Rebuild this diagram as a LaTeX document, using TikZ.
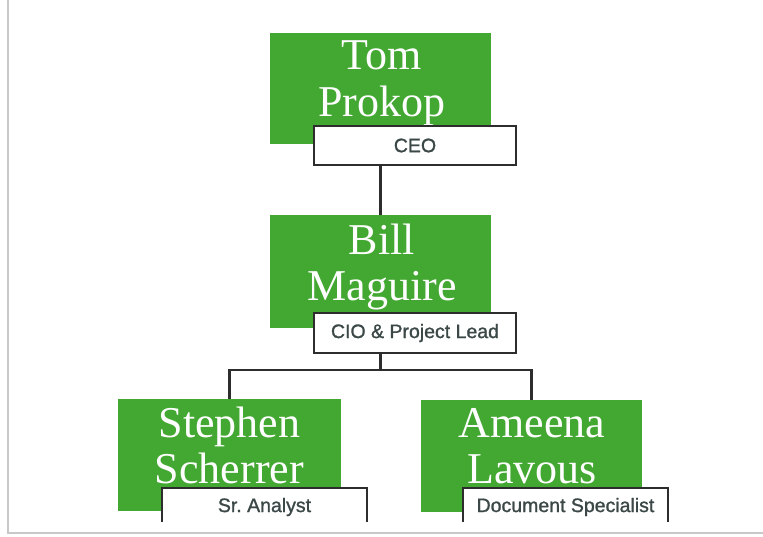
\documentclass[tikz,border=0pt]{standalone}
\usepackage{fontspec}
\setmainfont{Liberation Serif}
\newfontfamily\labelfont[FakeBold=1.2]{Liberation Sans}
\definecolor{boxgreen}{RGB}{67,168,50}
\definecolor{labelgray}{RGB}{60,72,72}
\definecolor{linegray}{RGB}{45,45,45}
\definecolor{framegray}{RGB}{200,200,200}
\begin{document}
\begin{tikzpicture}[x=1pt,y=-1pt,
  gbox/.style={fill=boxgreen, draw=none, inner sep=0pt},
  nametxt/.style={text=white, font=\fontsize{44}{46}\selectfont, inner sep=0pt, anchor=base},
  lbox/.style={fill=white, draw=linegray, line width=2.2pt, inner sep=0pt},
  lopen/.style={fill=white, draw=none, inner sep=0pt},
  lside/.style={draw=linegray, line width=2.2pt},
  lbltxt/.style={text=labelgray, font=\labelfont\fontsize{19.5}{22}\selectfont\frenchspacing, inner sep=0pt},
  conn/.style={draw=linegray, line width=2.2pt}]
\useasboundingbox (0,0) rectangle (763,537);
\fill[white] (0,0) rectangle (763,537);
\draw[framegray, line width=1.2pt] (8,0) -- (8,533) -- (763,533);

% green boxes
\node[gbox, minimum width=221pt, minimum height=111pt] (tomg) at (380.5,88.5) {};
\node[gbox, minimum width=221pt, minimum height=113pt] (billg) at (380.5,271.5) {};
\node[gbox, minimum width=223pt, minimum height=112pt] (steg) at (229.5,455) {};
\node[gbox, minimum width=221pt, minimum height=112pt] (ameg) at (531.5,456) {};

% names
\node[nametxt] (tom1) at (382,70) {Tom};
\node[nametxt] (tom2) at (382,117) {Prokop};
\node[nametxt] (bill1) at (382,255) {Bill};
\node[nametxt] (bill2) at (382,301) {Maguire};
\node[nametxt] (ste1) at (229.5,437) {Stephen};
\node[nametxt] (ste2) at (229.5,483) {Scherrer};
\node[nametxt] (ame1) at (532,437) {Ameena};
\node[nametxt] (ame2) at (532,483) {Lavous};

% label boxes
\node[lbox, minimum width=202pt, minimum height=39pt] (ceo) at (415,145.5) {};
\node[lbltxt] (ceot) at (ceo.center) {CEO};
\node[lbox, minimum width=202pt, minimum height=40pt] (cio) at (415,333) {};
\node[lbltxt] (ciot) at (cio.center) {CIO \& Project Lead};

\node[lopen, minimum width=205pt, minimum height=34pt] (sr) at (264.5,505) {};
\draw[lside] (sr.south west) -- (sr.north west) -- (sr.north east) -- (sr.south east);
\node[lbltxt] (srt) at (264.5,507) {Sr. Analyst};
\node[lopen, minimum width=205pt, minimum height=34pt] (doc) at (565.5,505) {};
\draw[lside] (doc.south west) -- (doc.north west) -- (doc.north east) -- (doc.south east);
\node[lbltxt] (doct) at (565.5,507) {Document Specialist};

% connectors
\coordinate (bus) at (0,370);
\draw[conn] (tomg.center |- ceo.south) -- (billg.north);
\draw[conn] (billg.center |- cio.south) -- (billg.center |- bus);
\draw[conn] (steg.north) -- (steg.north |- bus) -- (ameg.north |- bus) -- (ameg.north);
\end{tikzpicture}
\end{document}
